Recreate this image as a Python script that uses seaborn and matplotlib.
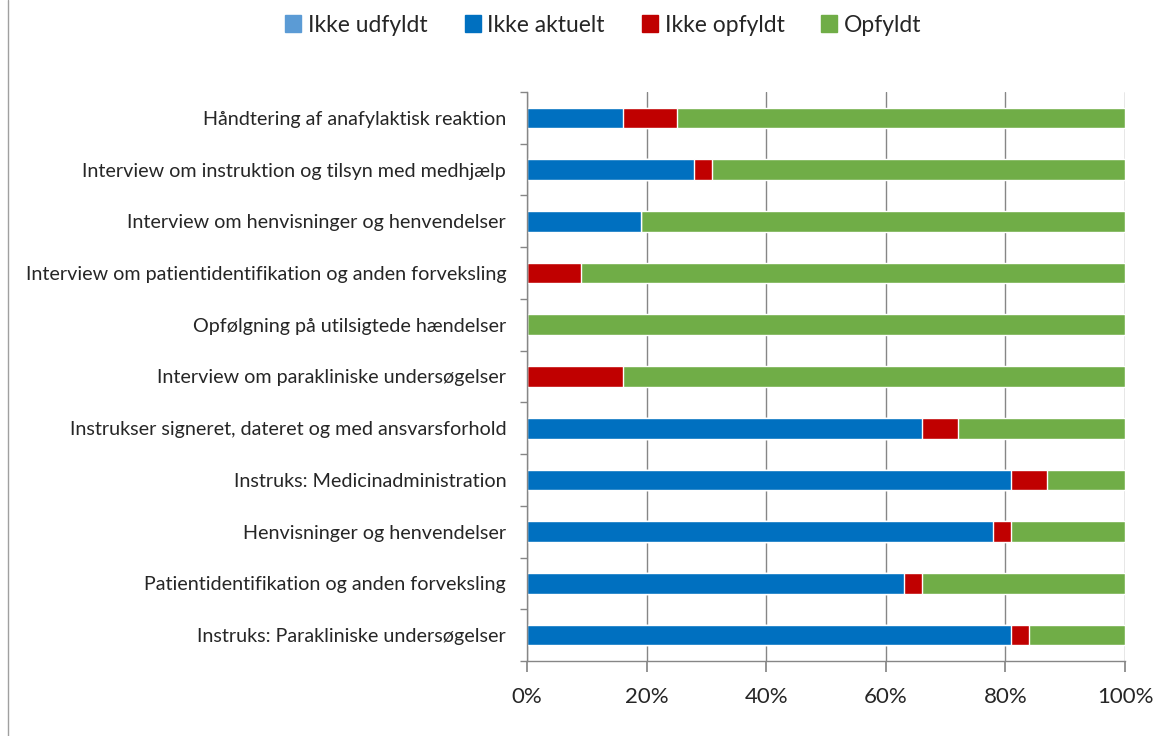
import numpy as np
import pandas as pd
import matplotlib
matplotlib.use("Agg")
import matplotlib.pyplot as plt
import seaborn as sns
from matplotlib.patches import Patch
from matplotlib.lines import Line2D

categories = [
    "Håndtering af anafylaktisk reaktion",
    "Interview om instruktion og tilsyn med medhjælp",
    "Interview om henvisninger og henvendelser",
    "Interview om patientidentifikation og anden forveksling",
    "Opfølgning på utilsigtede hændelser",
    "Interview om parakliniske undersøgelser",
    "Instrukser signeret, dateret og med ansvarsforhold",
    "Instruks: Medicinadministration",
    "Henvisninger og henvendelser",
    "Patientidentifikation og anden forveksling",
    "Instruks: Parakliniske undersøgelser",
]

series = ["Ikke udfyldt", "Ikke aktuelt", "Ikke opfyldt", "Opfyldt"]
ikke_udfyldt = [0, 0, 0, 0, 0, 0, 0, 0, 0, 0, 0]
ikke_aktuelt = [16, 28, 19, 0, 0, 0, 66, 81, 78, 63, 81]
ikke_opfyldt = [9, 3, 0, 9, 0, 16, 6, 6, 3, 3, 3]
opfyldt = [75, 69, 81, 91, 100, 84, 28, 13, 19, 34, 16]
colors = ["#5B9BD5", "#0070C0", "#C00000", "#70AD47"]

df = pd.DataFrame({
    "kategori": categories,
    "Ikke udfyldt": ikke_udfyldt,
    "Ikke aktuelt": ikke_aktuelt,
    "Ikke opfyldt": ikke_opfyldt,
    "Opfyldt": opfyldt,
})
# cumulative sums for stacking (draw widest first)
cum = df[series].cumsum(axis=1)
cum["kategori"] = df["kategori"]

sns.set_theme(style="white")
plt.rcParams["font.family"] = ["Lato", "DejaVu Sans"]

fig = plt.figure(figsize=(11.74, 7.36), dpi=100)
ax = fig.add_axes([527 / 1174, 1 - 661 / 736, 598 / 1174, 569 / 736])

for s, c in reversed(list(zip(series, colors))):
    if df[s].sum() == 0:
        continue
    sns.barplot(data=cum, x=s, y="kategori", orient="h", color=c,
                width=0.4, saturation=1, ax=ax, order=categories)

grid_c = "#868686"
ax.set_xlim(0, 100)
ax.set_ylim(len(categories) - 0.5, -0.5)
ax.set_xticks([0, 20, 40, 60, 80, 100])
ax.set_xticklabels(["0%", "20%", "40%", "60%", "80%", "100%"], fontsize=16)
ax.xaxis.grid(True, color=grid_c, linewidth=1)
ax.set_axisbelow(True)
ax.tick_params(axis="x", length=8, color=grid_c, direction="out", pad=11,
               bottom=True)
ax.tick_params(axis="y", length=0, labelsize=14.2, pad=15)
ax.set_yticks(np.arange(-0.5, len(categories), 1), minor=True)
ax.tick_params(axis="y", which="minor", length=5, color=grid_c, left=True)
ax.set_xlabel("")
ax.set_ylabel("")
for side in ["top", "right"]:
    ax.spines[side].set_visible(False)
for side in ["left", "bottom"]:
    ax.spines[side].set_color(grid_c)
    ax.spines[side].set_linewidth(1)

handles = [Patch(facecolor=c, edgecolor=c) for c in colors]
fig.legend(handles, series, loc="center", bbox_to_anchor=(0.514, 0.966),
           ncol=4, frameon=False, fontsize=16.5, handlelength=0.7,
           handleheight=0.7, handletextpad=0.3, columnspacing=1.6)

fig.add_artist(Line2D([8 / 1174, 8 / 1174], [0, 1], color="#A0A0A0",
                      linewidth=1, transform=fig.transFigure))

fig.savefig("out.png", dpi=100)
